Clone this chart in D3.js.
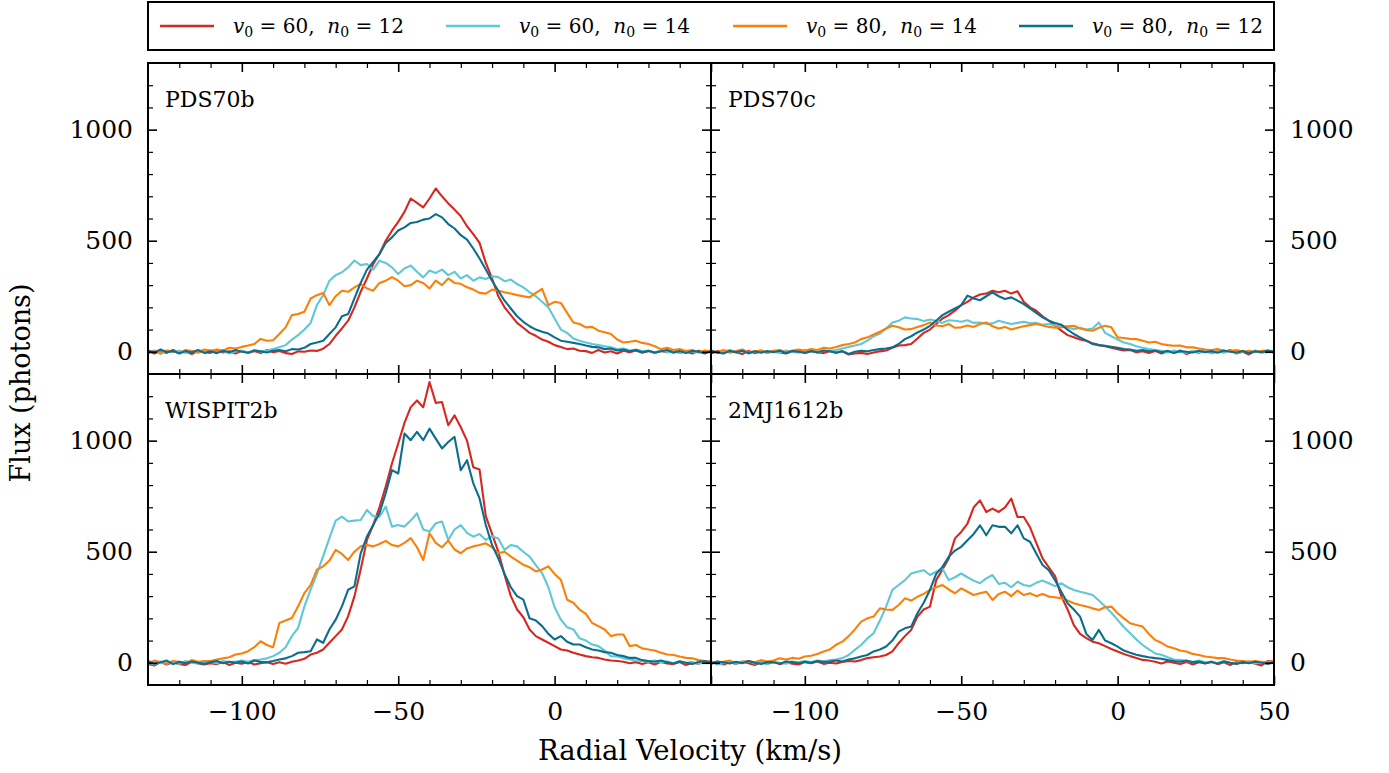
<!DOCTYPE html>
<html>
<head>
<meta charset="utf-8">
<script src="https://cdn.jsdelivr.net/npm/d3@7"></script>
<style>
  html, body { margin: 0; padding: 0; background: #fff; }
  svg { display: block; }
  text { font-family: "DejaVu Serif", serif; fill: #000; }
</style>
</head>
<body>
<svg id="chart" width="1389" height="773"></svg>
<script>
// ---------------- DATA ----------------
const velocity = [-130,-128,-126,-124,-122,-120,-118,-116,-114,-112,
  -110,-108,-106,-104,-102,-100,-98,-96,-94,-92,
  -90,-88,-86,-84,-82,-80,-78,-76,-74,-72,
  -70,-68,-66,-64,-62,-60,-58,-56,-54,-52,
  -50,-48,-46,-44,-42,-40,-38,-36,-34,-32,
  -30,-28,-26,-24,-22,-20,-18,-16,-14,-12,
  -10,-8,-6,-4,-2,0,2,4,6,8,
  10,12,14,16,18,20,22,24,26,28,
  30,32,34,36,38,40,42,44,46,48,
  50];

const seriesLabels = [["60","12"],["60","14"],["80","14"],["80","12"]];
const seriesColors = ["#d6281f","#5fc8d6","#fb8008","#0b6e8f"];
const panelNames = ["PDS70b","PDS70c","WISPIT2b","2MJ1612b"];
const xMajorTicks = [-100,-50,0,50];
const yMajorTicks = [0,500,1000];

const pds70b_v60n12 = [5,-8,3,-5,8,-3,2,-10,4,-2, -5,6,-3,2,-8,5,-4,3,-6,8, -2,4,-6,-10,2,0,6,4,14,35, 72,105,140,200,270,330,395,440,500,545, 585,630,690,670,650,690,735,700,668,640, 610,565,530,490,400,330,250,200,165,130, 108,85,72,55,45,30,22,12,15,5, 3,-5,8,-3,2,-8,5,-2,6,-4, 3,-6,4,-2,8,-5,2,-8,5,-3, 2];
const pds70b_v60n14 = [-3,6,-10,4,-2,5,-6,3,-4,2, 6,-3,4,-8,2,5,-4,8,0,6, 12,20,30,55,75,100,130,210,255,320, 345,358,380,411,390,395,370,410,400,380, 350,375,388,360,335,366,355,370,345,360, 330,345,320,335,328,340,336,318,325,305, 290,268,250,225,200,150,100,85,60,50, 42,35,30,25,20,12,15,6,10,3, 5,-4,8,-2,3,-6,5,0,-3,6, 2];
const pds70b_v80n14 = [-8,4,-3,6,2,-5,8,3,-2,10, 4,10,6,18,15,22,28,35,58,50, 52,80,110,165,170,180,240,255,265,210, 250,275,270,290,305,285,275,310,320,336, 320,295,300,320,310,285,320,300,330,310, 306,290,280,265,262,280,275,268,262,255, 250,245,265,283,210,225,220,175,132,125, 110,112,95,88,80,55,42,45,50,40, 35,25,12,18,8,12,3,8,-2,5, 3];
const pds70b_v80n12 = [6,-4,10,-2,4,-8,3,-3,8,-5, 2,-6,5,-2,8,0,-4,6,2,-3, 5,8,2,12,10,18,35,42,50,80, 110,160,170,240,310,370,405,440,490,515, 546,560,580,584,595,600,620,605,575,555, 525,505,465,420,370,320,275,230,195,160, 135,115,100,90,82,65,50,45,40,35, 28,22,20,12,15,6,10,2,8,-2, 5,-3,2,8,-4,3,-6,4,0,-8, 3];

const pds70c_v60n12 = [-8,3,-5,6,-2,-10,4,-6,2,-4, 5,-3,-8,2,6,-5,3,-2,-6,4, -4,2,-12,-8,-5,-10,-3,2,6,18, 28,30,35,60,85,100,125,150,165,185, 210,225,245,258,262,275,268,275,262,272, 225,200,185,160,140,118,95,75,65,55, 50,38,30,25,18,12,6,8,-2,3, -5,4,-8,2,-3,6,-10,0,-4,5, -6,2,-3,8,-8,0,-12,4,-2,6, -4];
const pds70c_v60n14 = [4,-6,2,8,-3,5,-8,0,6,-2, 3,-5,6,0,-4,8,2,-3,5,4, 8,15,22,28,35,50,70,82,105,132, 140,155,150,148,138,145,140,130,142,140, 135,142,130,132,125,128,140,132,125,130, 135,128,130,122,125,118,117,110,102,108, 100,105,132,85,70,55,42,35,25,18, 12,8,5,-3,6,0,-4,5,-2,3, -5,4,-2,6,-6,2,-3,5,-4,0, 3];
const pds70c_v80n14 = [5,-2,8,-4,3,10,-3,2,6,-5, 4,8,-2,6,10,5,12,8,18,15, 22,30,35,42,57,65,78,90,105,117, 110,100,102,112,120,132,118,115,125,108, 110,118,112,125,132,115,105,112,100,108, 115,120,125,118,112,108,110,115,117,105, 98,95,108,117,110,65,62,58,57,50, 42,45,35,30,27,28,20,20,15,10, 8,12,5,3,8,0,5,-2,4,6, 2];
const pds70c_v80n12 = [6,-3,-8,4,-2,5,-6,2,-4,3, -2,5,-6,3,0,-5,4,-3,6,2, -4,3,-10,0,5,2,8,12,15,20, 35,57,70,87,100,117,140,165,180,195, 210,253,240,232,250,268,250,238,245,230, 215,195,175,155,140,130,122,100,80,65, 50,35,30,27,22,18,12,10,5,8, 2,6,-2,4,-5,3,0,-3,5,-2, 3,-4,6,0,-3,4,-6,2,-2,5, 0];

const wispit2b_v60n12 = [-5,-12,3,-8,2,-6,-10,4,-3,-8, -2,-6,3,-10,0,-4,5,-8,-2,3, -5,2,-4,5,10,18,37,45,60,90, 120,150,210,299,420,553,620,700,793,897, 987,1080,1151,1181,1150,1264,1170,1174,1069,1114, 1060,1000,880,870,660,580,500,395,300,240, 205,150,120,105,90,75,60,55,45,37, 30,25,22,15,10,8,5,-2,3,-5, 2,-8,4,-3,-6,3,-10,0,-4,5, -2];
const wispit2b_v60n14 = [2,-8,6,-4,3,-6,8,0,-3,5, 4,-2,8,3,6,10,5,12,15,20, 30,45,70,120,157,254,329,400,480,561, 640,658,636,640,643,688,660,658,703,613, 620,613,640,673,600,591,628,636,553,600, 620,585,568,580,553,570,560,508,530,524, 500,478,440,404,340,250,194,160,150,110, 100,82,75,55,30,28,20,15,10,8, 5,10,2,6,-2,8,0,4,-4,6, 3];
const wispit2b_v80n14 = [-5,10,2,-3,8,4,-2,12,5,8, 8,15,20,25,37,42,52,70,97,80, 70,179,190,202,254,314,351,419,434,460, 508,490,463,500,524,530,524,535,549,530, 524,540,561,520,463,583,540,520,550,510, 493,515,524,530,538,520,493,500,478,460, 441,430,411,420,434,400,374,284,270,239, 220,179,165,150,120,127,127,75,80,65, 60,55,45,37,35,28,22,20,12,8, 8];
const wispit2b_v80n12 = [8,-4,2,10,-6,4,-2,6,0,-5, 3,8,-2,5,0,6,-3,10,4,2, 8,15,20,30,45,48,52,105,90,150, 194,254,329,344,493,568,620,673,763,867, 852,1032,1002,1040,1002,1054,1009,965,994,1017, 867,912,808,740,620,530,470,400,340,300, 284,200,190,165,130,105,120,95,82,82, 70,60,55,48,45,35,30,22,22,12, 8,5,10,2,-3,6,0,-5,4,8, -2];

const mj1612b_v60n12 = [-3,5,-8,2,-5,6,-2,-10,3,-4, 5,-6,2,-4,-8,3,-2,6,-5,0, -3,4,8,6,12,21,25,28,35,51, 88,120,148,208,240,253,372,420,470,560, 589,627,700,731,679,694,679,700,739,656, 656,610,540,470,430,390,300,240,170,130, 111,95,88,75,62,51,40,30,22,13, 10,5,-3,6,0,-5,4,-8,2,-3, 5,-6,2,-10,3,-2,6,-4,-12,8, 5];
const mj1612b_v60n14 = [5,-8,-2,6,-5,3,8,-3,2,-6, 4,0,-4,6,2,8,3,10,6,12, 15,21,35,58,80,110,133,190,253,328, 350,372,402,410,417,395,410,425,372,385, 402,385,370,358,380,395,355,360,340,365, 350,345,360,370,358,345,358,340,328,320, 313,305,280,253,225,193,160,133,105,80, 60,42,36,25,15,13,8,5,10,2, 5,-2,8,0,-4,6,2,-3,5,-6, 3];
const mj1612b_v80n14 = [6,-2,4,10,-3,5,8,2,12,6, 10,20,15,22,18,28,32,40,51,60, 81,95,120,150,185,200,208,245,240,238, 260,290,280,297,310,328,340,350,330,313, 335,320,305,313,320,283,310,320,300,325, 305,313,300,310,298,295,290,280,268,260, 253,245,238,250,253,223,200,178,170,163, 130,103,90,73,65,55,51,40,35,28, 25,21,21,15,10,8,5,8,3,5, 2];
const mj1612b_v80n12 = [-4,6,2,-3,5,-2,8,0,-5,3, 2,-4,6,3,-2,5,0,8,4,6, 10,6,15,20,28,35,51,60,73,100, 140,155,163,223,270,328,400,432,477,505, 522,552,580,619,574,619,612,612,583,619, 560,545,492,440,417,372,320,268,240,208, 130,103,148,100,88,73,55,45,36,30, 25,21,18,12,8,5,10,2,6,-2, 4,-3,6,0,-5,3,-2,5,0,-4, 3];

// ---------------- LAYOUT ----------------
const svg = d3.select("#chart");
const colX = [[148,711],[711,1274]];
const rowY = [[63,374],[374,685]];
const xDomain = [-130,50];
const yDomain = [-100,1300];
const TICK_FONT = 25;

const panels = [
  {name: panelNames[0], col: 0, row: 0, series: [pds70b_v60n12, pds70b_v60n14, pds70b_v80n14, pds70b_v80n12]},
  {name: panelNames[1], col: 1, row: 0, series: [pds70c_v60n12, pds70c_v60n14, pds70c_v80n14, pds70c_v80n12]},
  {name: panelNames[2], col: 0, row: 1, series: [wispit2b_v60n12, wispit2b_v60n14, wispit2b_v80n14, wispit2b_v80n12]},
  {name: panelNames[3], col: 1, row: 1, series: [mj1612b_v60n12, mj1612b_v60n14, mj1612b_v80n14, mj1612b_v80n12]}
];

const minorX = d3.range(-120, 50, 10).filter(v => !xMajorTicks.includes(v));
const minorY = d3.range(-100, 1301, 100).filter(v => !yMajorTicks.includes(v) && v > -100 && v < 1300);
const fmt = d3.format("d");

function styleAxis(g, major) {
  g.select(".domain").remove();
  g.selectAll(".tick line").attr("stroke", "#000").attr("stroke-width", major ? 1.6 : 1.2);
  g.selectAll(".tick text").attr("font-family", "DejaVu Serif, serif").attr("font-size", TICK_FONT).attr("fill", "#000");
  g.attr("font-family", null).attr("font-size", null);
}

panels.forEach((p, pi) => {
  const x = d3.scaleLinear().domain(xDomain).range(colX[p.col]);
  const y = d3.scaleLinear().domain(yDomain).range([rowY[p.row][1], rowY[p.row][0]]);
  const [x0, x1] = x.range();
  const [yb, yt] = y.range();

  const clipId = "clip" + pi;
  svg.append("clipPath").attr("id", clipId)
    .append("rect").attr("x", x0).attr("y", yt).attr("width", x1 - x0).attr("height", yb - yt);

  const g = svg.append("g");
  const line = d3.line().x((d, i) => x(velocity[i])).y(d => y(d));
  p.series.forEach((s, si) => {
    g.append("path")
      .datum(s)
      .attr("clip-path", `url(#${clipId})`)
      .attr("fill", "none")
      .attr("stroke", seriesColors[si])
      .attr("stroke-width", 2.1)
      .attr("stroke-linejoin", "round")
      .attr("d", line);
  });

  // bottom ticks
  const showXLabels = p.row === 1;
  const xLabelVals = p.col === 0 ? [-100, -50, 0] : [-100, -50, 0, 50];
  g.append("g").attr("transform", `translate(0,${yb})`)
    .call(d3.axisBottom(x).tickValues(xMajorTicks).tickSize(-9).tickPadding(17)
      .tickFormat(v => showXLabels && xLabelVals.includes(v) ? fmt(v) : ""))
    .call(s => styleAxis(s, true));
  g.append("g").attr("transform", `translate(0,${yb})`)
    .call(d3.axisBottom(x).tickValues(minorX).tickSize(-5).tickFormat(""))
    .call(s => styleAxis(s, false));
  // top ticks
  g.append("g").attr("transform", `translate(0,${yt})`)
    .call(d3.axisTop(x).tickValues(xMajorTicks).tickSize(-9).tickFormat(""))
    .call(s => styleAxis(s, true));
  g.append("g").attr("transform", `translate(0,${yt})`)
    .call(d3.axisTop(x).tickValues(minorX).tickSize(-5).tickFormat(""))
    .call(s => styleAxis(s, false));
  // left ticks
  g.append("g").attr("transform", `translate(${x0},0)`)
    .call(d3.axisLeft(y).tickValues(yMajorTicks).tickSize(-9).tickPadding(15)
      .tickFormat(v => p.col === 0 ? fmt(v) : ""))
    .call(s => styleAxis(s, true));
  g.append("g").attr("transform", `translate(${x0},0)`)
    .call(d3.axisLeft(y).tickValues(minorY).tickSize(-5).tickFormat(""))
    .call(s => styleAxis(s, false));
  // right ticks
  g.append("g").attr("transform", `translate(${x1},0)`)
    .call(d3.axisRight(y).tickValues(yMajorTicks).tickSize(-9).tickPadding(16)
      .tickFormat(v => p.col === 1 ? fmt(v) : ""))
    .call(s => styleAxis(s, true));
  g.append("g").attr("transform", `translate(${x1},0)`)
    .call(d3.axisRight(y).tickValues(minorY).tickSize(-5).tickFormat(""))
    .call(s => styleAxis(s, false));

  // frame
  g.append("rect").attr("x", x0).attr("y", yt).attr("width", x1 - x0).attr("height", yb - yt)
    .attr("fill", "none").attr("stroke", "#000").attr("stroke-width", 2);

  // panel label
  g.append("text").attr("x", x0 + 17).attr("y", yt + 44)
    .attr("font-size", 22).text(p.name);
});

// axis titles
svg.append("text").attr("x", 690).attr("y", 760).attr("text-anchor", "middle")
  .attr("font-size", 27.5).text("Radial Velocity (km/s)");
svg.append("text").attr("transform", "translate(30,383) rotate(-90)").attr("text-anchor", "middle")
  .attr("font-size", 27).text("Flux (photons)");

// legend
const leg = svg.append("g");
leg.append("rect").attr("x", 148).attr("y", 2).attr("width", 1126).attr("height", 48)
  .attr("fill", "#fff").attr("stroke", "#000").attr("stroke-width", 2);
const legX = [160, 446, 733, 1019];
seriesLabels.forEach((lab, i) => {
  const lx = legX[i];
  leg.append("line").attr("x1", lx).attr("x2", lx + 54).attr("y1", 26).attr("y2", 26)
    .attr("stroke", seriesColors[i]).attr("stroke-width", 2.6);
  const t = leg.append("text").attr("x", lx + 73).attr("y", 33).attr("font-size", 20)
    .style("white-space", "pre");
  t.append("tspan").attr("font-style", "italic").text("v");
  t.append("tspan").attr("font-size", 14).attr("dy", 4).text("0");
  t.append("tspan").attr("dy", -4).text(" = " + lab[0] + ",  ");
  t.append("tspan").attr("font-style", "italic").text("n");
  t.append("tspan").attr("font-size", 14).attr("dy", 4).text("0");
  t.append("tspan").attr("dy", -4).text(" = " + lab[1]);
});
</script>
</body>
</html>
